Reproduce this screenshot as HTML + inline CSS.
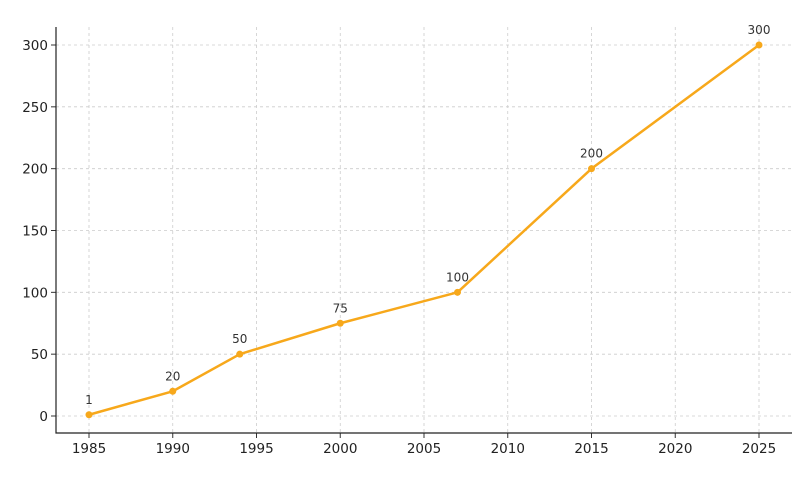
<!DOCTYPE html>
<html><head><meta charset="utf-8"><style>
body{margin:0;background:#fff;}
svg{display:block;font-family:"DejaVu Sans","Liberation Sans",sans-serif;}
</style></head><body>
<svg id="chart" width="800" height="477" viewBox="0 0 800 477" xmlns="http://www.w3.org/2000/svg">
<g id="grid"></g>
<g id="axes"></g>
<g id="series"></g>
</svg>
<script>
const years = [1985, 1990, 1994, 2000, 2007, 2015, 2025];
const values = [1, 20, 50, 75, 100, 200, 300];
const xTicks = [1985, 1990, 1995, 2000, 2005, 2010, 2015, 2020, 2025];
const yTicks = [0, 50, 100, 150, 200, 250, 300];

const NS = "http://www.w3.org/2000/svg";
const L = 56, R = 792, T = 27, B = 433;
const x = v => 89 + (v - 1985) * (759 - 89) / 40;
const y = v => 416 - v * (416 - 45) / 300;
function mk(tag, attrs, parent) {
  const e = document.createElementNS(NS, tag);
  for (const k in attrs) e.setAttribute(k, attrs[k]);
  parent.appendChild(e);
  return e;
}
const grid = document.getElementById('grid');
const axes = document.getElementById('axes');
const series = document.getElementById('series');

xTicks.forEach(t => {
  const g = mk('line', {x1: x(t), x2: x(t), y1: T, y2: B, stroke: '#cccccc', 'stroke-dasharray': '3,3', 'stroke-width': 0.8}, grid);
  
  
  const tk = mk('line', {x1: x(t), x2: x(t), y1: B, y2: B + 5, stroke: '#333'}, axes);
  
  
  const lb = mk('text', {x: x(t), y: B + 20, 'text-anchor': 'middle', 'font-size': 13.5, fill: '#222'}, axes);
  lb.textContent = t;
  
  
});
yTicks.forEach(t => {
  const g = mk('line', {x1: L, x2: R, y1: y(t), y2: y(t), stroke: '#cccccc', 'stroke-dasharray': '3,3', 'stroke-width': 0.8}, grid);
  
  
  const tk = mk('line', {x1: L - 5, x2: L, y1: y(t), y2: y(t), stroke: '#333'}, axes);
  
  
  const lb = mk('text', {x: L - 8, y: y(t) + 5, 'text-anchor': 'end', 'font-size': 13.5, fill: '#222'}, axes);
  lb.textContent = t;
  
  
});
const ax = mk('path', {d: `M${L},${T} L${L},${B} L${R},${B}`, fill: 'none', stroke: '#222', 'stroke-width': 1.2}, axes);



const pts = years.map((yr, i) => `${x(yr)},${y(values[i])}`).join(' ');
const line = mk('polyline', {points: pts, fill: 'none', stroke: '#F7A81B', 'stroke-width': 2.5, 'stroke-linejoin': 'round'}, series);


years.forEach((yr, i) => {
  const c = mk('circle', {cx: x(yr), cy: y(values[i]), r: 3.5, fill: '#F7A81B'}, series);
  
  
  const t = mk('text', {x: x(yr), y: y(values[i]) - 11, 'text-anchor': 'middle', 'font-size': 12, fill: '#333'}, series);
  t.textContent = values[i];
  
  
});
</script>
</body></html>
